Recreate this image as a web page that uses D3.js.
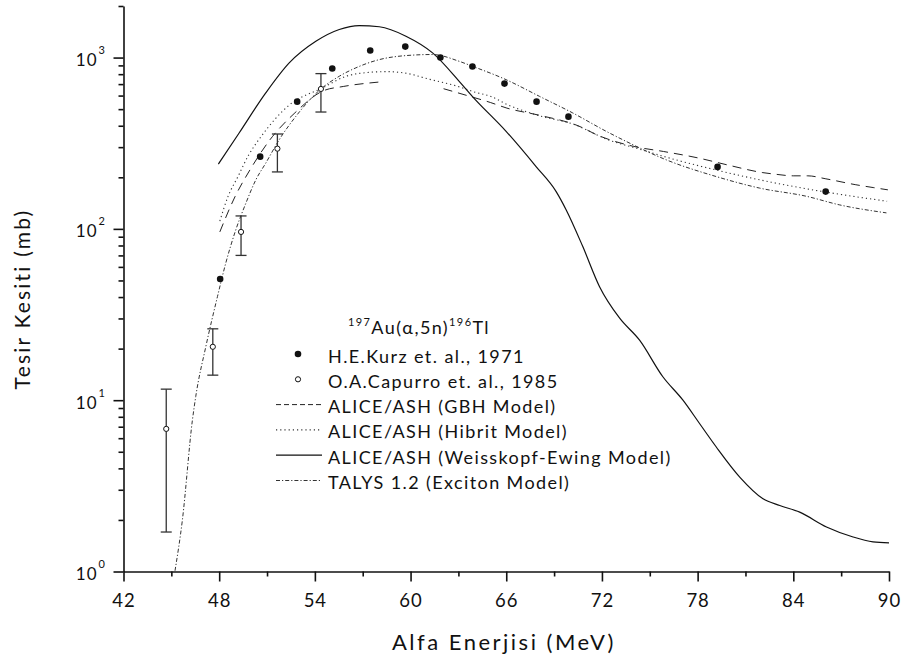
<!DOCTYPE html>
<html>
<head>
<meta charset="utf-8">
<script src="https://cdn.jsdelivr.net/npm/d3@7"></script>
<style>
  html, body { margin: 0; padding: 0; background: #fff; }
  svg { display: block; font-family: Lato, "Open Sans", sans-serif; }
</style>
</head>
<body>
<svg id="chart" width="902" height="664"></svg>
<script>
// Experimental data: H.E. Kurz et al. (1971)
const kurzEnergy = [48.06, 50.57, 52.89, 55.09, 57.47, 59.67, 61.87, 63.88, 65.89, 67.9, 69.9, 79.25, 86.03];
const kurzXS     = [51, 264, 553, 863, 1099, 1159, 1000, 886, 705, 553, 452, 230, 165];

// Experimental data: O.A. Capurro et al. (1985) with error ranges
const capEnergy = [44.68, 47.6, 49.37, 51.65, 54.38];
const capXS     = [6.8, 20.5, 96, 294, 656];
const capLow    = [1.7, 14.0, 70, 215, 481];
const capHigh   = [11.6, 26.1, 119, 358, 806];

// ALICE/ASH, GBH model (null marks a break in the drawn curve)
const gbhEnergy = [48.04, 48.99, 49.93, 51.18, 52.75, 54.53, 55.78, 57.98, 60.0, 62.07, 63.74, 65.0, 66.04, 68.1, 70.5, 71.8, 73.99, 75.86, 78.07, 79.89, 82.09, 82.78, 84.03, 84.91, 86.04, 87.92, 89.05, 89.93];
const gbhXS     = [96, 154, 221, 331, 476, 640, 678, 719, null, 658, 593, 547, 507, 460, 400, 350, 303, 283, 259, 236, 213, 209, 204, 204, 196, 181, 174, 169];

// ALICE/ASH, hybrid model
const hibEnergy = [48.04, 48.56, 49.19, 49.81, 50.65, 51.49, 52.32, 54.52, 55.99, 57.24, 58.5, 59.75, 61.21, 62.89, 64.14, 64.98, 66.04, 68.13, 70.22, 72.32, 74.41, 76.5, 79.22, 82.77, 86.95, 89.88];
const hibXS     = [111, 155, 203, 266, 348, 436, 521, 668, 780, 817, 828, 809, 746, 682, 624, 596, 533, 456, 408, 333, 291, 255, 220, 186, 159, 145];

// ALICE/ASH, Weisskopf-Ewing model
const weEnergy = [47.95, 49.25, 50.92, 52.39, 54.06, 55.53, 56.78, 58.04, 59.71, 61.38, 63.05, 63.87, 65.99, 67.87, 69.13, 69.76, 70.8, 71.85, 73.1, 74.36, 75.82, 77.08, 78.12, 79.17, 80.64, 82.1, 83.15, 84.4, 86.08, 87.75, 89.0, 90.0];
const weXS     = [239, 363, 622, 931, 1245, 1459, 1538, 1513, 1333, 1065, 727, 594, 371, 231, 165, 129, 78.8, 46, 30.2, 22.4, 13.7, 10.0, 7.31, 5.33, 3.56, 2.66, 2.43, 2.22, 1.82, 1.59, 1.49, 1.47];

// TALYS 1.2, exciton model
const talysEnergy = [45.23, 45.69, 46.32, 46.53, 47.16, 47.89, 48.41, 49.04, 49.67, 50.3, 50.92, 51.76, 52.81, 54.38, 55.53, 56.57, 58.04, 59.71, 61.38, 63.05, 63.89, 65.99, 68.08, 70.17, 72.27, 73.52, 76.03, 79.17, 81.89, 84.82, 86.91, 89.84];
const talysXS     = [1.01, 1.99, 7.64, 10.5, 20.5, 40.2, 63, 98.6, 141, 193.5, 242, 331, 454, 656, 778, 871, 973, 1027, 1042, 951, 889, 743, 594, 475, 371, 324, 253, 202, 173, 155, 138, 124];

// Axis ticks and labels
const xTickValues = [42, 48, 54, 60, 66, 72, 78, 84, 90];
const xMinorValues = [45, 51, 57, 63, 69, 75, 81, 87];
const yDecadeExponents = [0, 1, 2, 3];

const legendTitle = { pre: "197", main1: "Au(α,5n)", sup2: "196", main2: "Tl" };
const legendLabels = [
  "H.E.Kurz et. al., 1971",
  "O.A.Capurro et. al., 1985",
  "ALICE/ASH (GBH Model)",
  "ALICE/ASH (Hibrit Model)",
  "ALICE/ASH (Weisskopf-Ewing Model)",
  "TALYS 1.2 (Exciton Model)"
];
const xTitle = "Alfa Enerjisi (MeV)";
const yTitle = "Tesir Kesiti (mb)";

// ---- layout ----
const svg = d3.select("#chart");
const plotL = 123.5, plotR = 889, plotT = 6, plotB = 571.5;
const ink = "#111";

const x = d3.scaleLinear().domain([42, 90]).range([plotL, plotR]);
const y = d3.scaleLog().domain([1, 2000]).range([plotB, plotT]);

const zip = (xs, ys) => xs.map((e, i) => ({ e, v: ys[i] }));

// line styles
const styles = {
  gbh:   { dash: "9,6",       width: 1.0, color: "#222" },
  hib:   { dash: "1.2,3",     width: 1.1, color: "#333" },
  we:    { dash: null,        width: 1.2, color: "#111" },
  talys: { dash: "4,2,1.2,2", width: 1.0, color: "#333" }
};

const line = d3.line()
  .defined(d => d.v != null)
  .x(d => x(d.e))
  .y(d => y(d.v))
  .curve(d3.curveMonotoneX);

const curves = [
  { key: "gbh",   data: zip(gbhEnergy, gbhXS) },
  { key: "hib",   data: zip(hibEnergy, hibXS) },
  { key: "we",    data: zip(weEnergy, weXS) },
  { key: "talys", data: zip(talysEnergy, talysXS) }
];

const plot = svg.append("g");
curves.forEach(c => {
  const s = styles[c.key];
  plot.append("path")
    .datum(c.data)
    .attr("fill", "none")
    .attr("stroke", s.color)
    .attr("stroke-width", s.width)
    .attr("stroke-dasharray", s.dash)
    .attr("d", line);
});

// Capurro error bars and open markers
const capData = capEnergy.map((e, i) => ({ e, v: capXS[i], lo: capLow[i], hi: capHigh[i] }));
const eb = plot.selectAll(".eb").data(capData).enter().append("g").attr("class", "eb")
  .attr("stroke", "#333").attr("stroke-width", 1.3);
eb.append("line").attr("x1", d => x(d.e)).attr("x2", d => x(d.e))
  .attr("y1", d => y(d.hi)).attr("y2", d => y(d.lo));
eb.append("line").attr("x1", d => x(d.e) - 5.5).attr("x2", d => x(d.e) + 5.5)
  .attr("y1", d => y(d.hi)).attr("y2", d => y(d.hi));
eb.append("line").attr("x1", d => x(d.e) - 5.5).attr("x2", d => x(d.e) + 5.5)
  .attr("y1", d => y(d.lo)).attr("y2", d => y(d.lo));
plot.selectAll(".cap").data(capData).enter().append("circle")
  .attr("cx", d => x(d.e)).attr("cy", d => y(d.v)).attr("r", 2.6)
  .attr("fill", "#fff").attr("stroke", ink).attr("stroke-width", 1);

// Kurz filled markers
plot.selectAll(".kurz").data(zip(kurzEnergy, kurzXS)).enter().append("circle")
  .attr("cx", d => x(d.e)).attr("cy", d => y(d.v)).attr("r", 3.3)
  .attr("fill", ink);

// ---- axes ----
const xAxis = svg.append("g").attr("transform", `translate(0,${plotB})`)
  .call(d3.axisBottom(x).tickValues(xTickValues).tickSize(10).tickPadding(12)
    .tickFormat(d3.format("d")).tickSizeOuter(0));
svg.append("g").attr("transform", `translate(0,${plotB})`)
  .call(d3.axisBottom(x).tickValues(xMinorValues).tickSize(5).tickFormat("").tickSizeOuter(0))
  .select(".domain").remove();

const yMajor = yDecadeExponents.map(p => Math.pow(10, p));
const yMinor = [];
yDecadeExponents.forEach(p => {
  for (let k = 2; k <= 9; k++) {
    const val = k * Math.pow(10, p);
    if (val <= 2000) yMinor.push(val);
  }
});

svg.append("g").attr("transform", `translate(${plotL},0)`)
  .call(d3.axisLeft(y).tickValues(yMajor).tickSize(10).tickFormat("").tickSizeOuter(0));
svg.append("g").attr("transform", `translate(${plotL},0)`)
  .call(d3.axisLeft(y).tickValues(yMinor).tickSize(5).tickFormat("").tickSizeOuter(0))
  .select(".domain").remove();

svg.selectAll(".domain, .tick line").attr("stroke", ink).attr("stroke-width", 1.6);

xAxis.selectAll(".tick text")
  .attr("fill", ink).style("font-size", "18.5px").style("letter-spacing", "1px")
  .style("font-family", "Lato, sans-serif");

// decade labels as 10^n
const yLab = svg.append("g");
yDecadeExponents.forEach(p => {
  yLab.append("text")
    .attr("x", plotL - 26).attr("y", y(Math.pow(10, p)) + 8.5)
    .attr("text-anchor", "end")
    .attr("fill", ink).style("font-size", "17px").style("letter-spacing", "1px")
    .text("10");
  yLab.append("text")
    .attr("x", plotL - 25).attr("y", y(Math.pow(10, p)) - 3.5)
    .attr("fill", ink).style("font-size", "11px")
    .text(p);
});

// axis titles
svg.append("text")
  .attr("x", 392).attr("y", 650)
  .attr("text-anchor", "start").attr("fill", ink)
  .style("font-size", "22px").style("letter-spacing", "2.5px")
  .text(xTitle);
svg.append("text")
  .attr("transform", `translate(30,299) rotate(-90)`)
  .attr("text-anchor", "middle").attr("fill", ink)
  .style("font-size", "21px").style("letter-spacing", "2.2px")
  .text(yTitle);

// ---- legend ----
const lg = svg.append("g");
const lgTitle = lg.append("text").attr("x", 348).attr("y", 334).attr("fill", ink)
  .style("font-size", "18px").style("letter-spacing", "1.4px");
lgTitle.append("tspan").text(legendTitle.pre).style("font-size", "11px").attr("dy", -8);
lgTitle.append("tspan").text(legendTitle.main1).attr("dy", 8);
lgTitle.append("tspan").text(legendTitle.sup2).style("font-size", "11px").attr("dy", -8);
lgTitle.append("tspan").text(legendTitle.main2).attr("dy", 8);

const rowY = i => 354 + 25.3 * i;
const symX0 = 276, symX1 = 322, textX = 328;
legendLabels.forEach((lab, i) => {
  const cy = rowY(i);
  if (i === 0) {
    lg.append("circle").attr("cx", 298).attr("cy", cy).attr("r", 3.3).attr("fill", ink);
  } else if (i === 1) {
    lg.append("circle").attr("cx", 298).attr("cy", cy).attr("r", 2.6)
      .attr("fill", "#fff").attr("stroke", ink).attr("stroke-width", 1);
  } else {
    const s = styles[["gbh", "hib", "we", "talys"][i - 2]];
    lg.append("line").attr("x1", symX0).attr("x2", symX1).attr("y1", cy).attr("y2", cy)
      .attr("stroke", s.color).attr("stroke-width", s.width)
      .attr("stroke-dasharray", i === 2 ? "5,3" : s.dash);
  }
  lg.append("text").attr("x", textX).attr("y", cy + 8.5)
    .attr("fill", ink).style("font-size", "18px").style("letter-spacing", "1.4px")
    .text(lab);
});
</script>
</body>
</html>
